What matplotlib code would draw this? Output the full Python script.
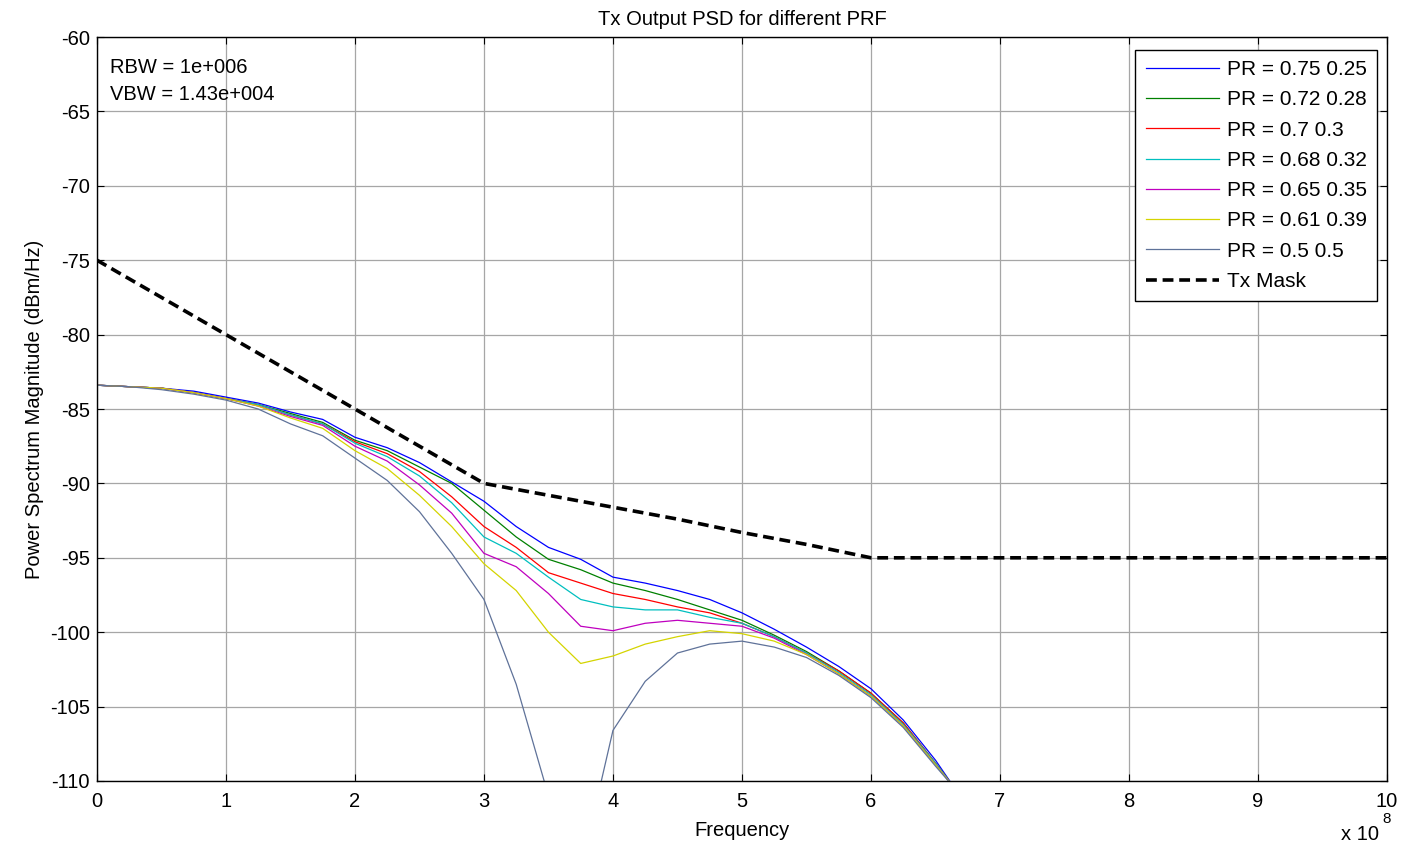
import matplotlib
matplotlib.use('Agg')
import matplotlib.pyplot as plt

plt.rcParams['font.family'] = ['Liberation Sans', 'DejaVu Sans']
plt.rcParams['axes.unicode_minus'] = False

freq = [0, 0.25, 0.5, 0.75, 1, 1.25, 1.5, 1.75, 2, 2.25, 2.5, 2.75, 3,
        3.25, 3.5, 3.75, 4, 4.25, 4.5, 4.75, 5, 5.25, 5.5, 5.75, 6, 6.25,
        6.5, 6.65]

psd_075 = [-83.4, -83.5, -83.6, -83.8, -84.2, -84.6, -85.2, -85.7, -86.9,
           -87.6, -88.6, -89.9, -91.2, -92.9, -94.3, -95.1, -96.3, -96.7,
           -97.2, -97.8, -98.7, -99.8, -101.0, -102.3, -103.8, -105.9,
           -108.6, -110.5]
psd_072 = [-83.4, -83.5, -83.6, -83.9, -84.3, -84.7, -85.3, -85.9, -87.1,
           -87.8, -88.9, -90.0, -91.8, -93.6, -95.1, -95.8, -96.7, -97.2,
           -97.8, -98.5, -99.2, -100.2, -101.3, -102.6, -104.1, -106.1,
           -108.8, -110.5]
psd_070 = [-83.4, -83.5, -83.6, -83.9, -84.3, -84.7, -85.4, -86.0, -87.2,
           -88.0, -89.2, -90.9, -92.9, -94.3, -96.0, -96.7, -97.4, -97.8,
           -98.3, -98.7, -99.4, -100.3, -101.4, -102.6, -104.1, -106.1,
           -108.8, -110.5]
psd_068 = [-83.4, -83.5, -83.6, -83.9, -84.3, -84.7, -85.4, -86.0, -87.3,
           -88.2, -89.5, -91.3, -93.6, -94.7, -96.3, -97.8, -98.3, -98.5,
           -98.5, -99.0, -99.4, -100.3, -101.4, -102.7, -104.2, -106.2,
           -108.8, -110.5]
psd_065 = [-83.4, -83.5, -83.6, -83.9, -84.3, -84.8, -85.5, -86.1, -87.5,
           -88.5, -90.1, -92.0, -94.7, -95.6, -97.4, -99.6, -99.9, -99.4,
           -99.2, -99.4, -99.6, -100.4, -101.5, -102.8, -104.3, -106.3,
           -108.9, -110.5]
psd_061 = [-83.4, -83.5, -83.6, -83.9, -84.3, -84.8, -85.6, -86.3, -87.8,
           -89.0, -90.8, -92.9, -95.4, -97.2, -100.0, -102.1, -101.6, -100.8,
           -100.3, -99.9, -100.1, -100.6, -101.5, -102.8, -104.3, -106.3,
           -108.9, -110.5]
psd_050 = [-83.4, -83.5, -83.7, -84.0, -84.4, -85.0, -86.0, -86.8, -88.3,
           -89.8, -91.9, -94.7, -97.8, -103.5, -111.0, -116.0, -106.6, -103.3,
           -101.4, -100.8, -100.6, -101.0, -101.7, -102.9, -104.4, -106.4,
           -109.0, -110.5]

mask_freq = [0, 1, 2, 3, 3.5, 4, 4.5, 5, 5.5, 6, 10]
mask_psd = [-75, -80, -85, -90, -90.8, -91.6, -92.4, -93.3, -94.1, -95, -95]

labels = ['PR = 0.75 0.25', 'PR = 0.72 0.28', 'PR = 0.7 0.3', 'PR = 0.68 0.32',
          'PR = 0.65 0.35', 'PR = 0.61 0.39', 'PR = 0.5 0.5']
colors = ['#0000ff', '#008000', '#ff0000', '#00bfbf', '#bf00bf', '#d4d400',
          '#5f7299']
series = [psd_075, psd_072, psd_070, psd_068, psd_065, psd_061, psd_050]

FS = 14.5

fig = plt.figure(figsize=(14.01, 8.49), dpi=100)
ax = fig.add_axes([0.0692, 0.0801, 0.9208, 0.8763])

for vals, col, lab in zip(series, colors, labels):
    ax.plot(freq, vals, color=col, lw=0.9, label=lab)
ax.plot(mask_freq, mask_psd, color='black', lw=2.6, ls=(0, (3, 1.6)),
        label='Tx Mask')

ax.set_xlim(0, 10)
ax.set_ylim(-110, -60)
ax.set_xticks(range(0, 11))
ax.set_yticks(range(-110, -59, 5))
ax.tick_params(direction='in', length=5, top=True, right=True,
               labelsize=FS, width=0.8)
ax.tick_params(axis='x', pad=8)
ax.tick_params(axis='y', pad=5)
ax.grid(True, color='#a6a6a6', lw=0.9)
for sp in ax.spines.values():
    sp.set_linewidth(1.0)

ax.set_title('Tx Output PSD for different PRF', fontsize=FS, pad=9)
ax.set_xlabel('Frequency', fontsize=FS, labelpad=7)
ax.set_ylabel('Power Spectrum Magnitude (dBm/Hz)', fontsize=FS, labelpad=4)

fig.text(0.957, 0.006, 'x 10', fontsize=FS, ha='left', va='bottom')
fig.text(0.9865, 0.027, '8', fontsize=FS * 0.75, ha='left', va='bottom')

ax.text(0.01, 0.972, 'RBW = 1e+006\nVBW = 1.43e+004', transform=ax.transAxes,
        fontsize=FS, va='top', ha='left', linespacing=1.55)

leg = ax.legend(loc='upper right', bbox_to_anchor=(0.9925, 0.983),
                fontsize=FS + 0.5, frameon=True, fancybox=False,
                edgecolor='black', framealpha=1, handlelength=3.5,
                labelspacing=0.54, borderaxespad=0, handletextpad=0.4,
                borderpad=0.5)
leg.get_frame().set_linewidth(1.0)

fig.savefig('out.png', dpi=100)
